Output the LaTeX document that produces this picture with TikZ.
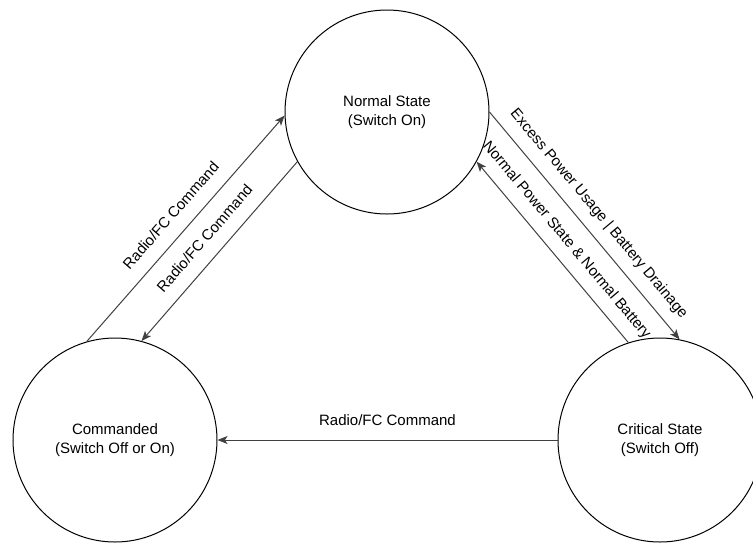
\documentclass[tikz,border=0pt]{standalone}
\usepackage{fontspec}
\setmainfont{Liberation Sans}
\usetikzlibrary{arrows.meta}
\definecolor{edgecol}{HTML}{404040}
\begin{document}
\begin{tikzpicture}[x=1pt,y=-1pt,
  state/.style={circle, draw=black, line width=1pt, minimum size=204pt, inner sep=0pt, align=center, font=\fontsize{15}{19}\selectfont},
  trans/.style={draw=edgecol, line width=1pt, -{Stealth[length=10pt,width=8pt,inset=2.5pt]}},
  lbl/.style={midway, sloped, above=11pt, inner sep=0pt, text height=11pt, text depth=3pt, font=\fontsize{15}{18}\selectfont}]
\useasboundingbox (0,0) rectangle (753,542);
\clip (0,0) rectangle (753,542);
\node[state] (norm) at (387,112) {Normal State\\(Switch On)};
\node[state] (cmd) at (115,440) {Commanded\\(Switch Off or On)};
\node[state] (crit) at (660,440) {Critical State\\(Switch Off)};
\draw[trans] (cmd.106) -- node[lbl] (l1) {Radio/FC Command} (norm.182);
\draw[trans] (norm.209) -- node[lbl] (l2) {Radio/FC Command} (cmd.75);
\draw[trans] (norm.-0.5) -- node[lbl] (l3) {Excess Power Usage | Battery Drainage} (crit.79);
\draw[trans] (crit.108.5) -- node[lbl] (l4) {Normal Power State \& Normal Battery} (norm.-29);
\draw[trans] (crit.180) -- node[lbl] (l5) {Radio/FC Command} (cmd.0);
\end{tikzpicture}
\end{document}
